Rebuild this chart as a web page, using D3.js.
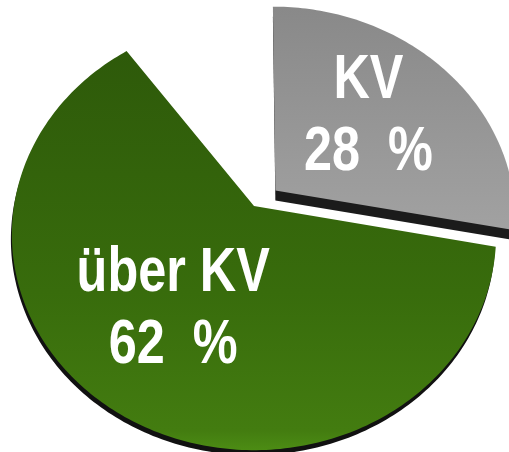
<!DOCTYPE html>
<html>
<head>
<meta charset="utf-8">
<script src="https://cdn.jsdelivr.net/npm/d3@7"></script>
<style>
  html, body { margin: 0; padding: 0; background: #fff; }
  svg { display: block; }
</style>
</head>
<body>
<svg id="canvas"></svg>
<script>
// chart data
const categories = ["KV", "über KV", "Rest"];
const values = [28, 62, 10];
const visible = [true, true, false];

const width = 509,
  height = 452;

// pie seen in perspective
const radius = 240,
  tilt = (28 * Math.PI) / 180,
  dist = 853,
  cx = 254,
  cy = 206;

const explodeIndex = 0,
  explodeDist = 28;

const fills = ["url(#gradKV)", "url(#gradUeber)", "none"];
const sideFill = ["#1b1b1b", "#111", "none"];
const sideShift = [[0, 10], [-1, 5], [0, 0]];

const canvas = d3.select("#canvas").attr("width", width).attr("height", height);

const defs = canvas.append("defs");
const addGradient = (id, y1, y2, stops) => {
  const g = defs
    .append("linearGradient")
    .attr("id", id)
    .attr("gradientUnits", "userSpaceOnUse")
    .attr("x1", 0)
    .attr("x2", 0)
    .attr("y1", y1)
    .attr("y2", y2);
  stops.forEach(([o, c]) => g.append("stop").attr("offset", o).attr("stop-color", c));
};
addGradient("gradKV", 8, 235, [[0, "#898989"], [1, "#a2a2a2"]]);
addGradient("gradUeber", 55, 450, [[0, "#2e5a0a"], [0.6, "#386c0c"], [0.95, "#437c10"], [1, "#4c8c14"]]);

// project a point of the pie plane to the screen
const project = ([x, y]) => {
  const f = dist / (dist - y * Math.sin(tilt));
  return [cx + x * f, cy + y * Math.cos(tilt) * f];
};
const polar = (a, r) => [r * Math.sin(a), -r * Math.cos(a)];

const pie = d3
  .pie()
  .sort(null)
  .value((d) => d);
const arcs = pie(values);

const line = d3.line().curve(d3.curveLinearClosed);

const offsetOf = (i) => {
  if (i !== explodeIndex) return [0, 0];
  const mid = (arcs[i].startAngle + arcs[i].endAngle) / 2;
  return polar(mid, explodeDist);
};

const slicePoints = (i) => {
  const a = arcs[i];
  const [ox, oy] = offsetOf(i);
  const steps = Math.ceil(((a.endAngle - a.startAngle) * 180) / Math.PI);
  const pts = [[ox, oy]];
  d3.range(steps + 1).forEach((k) => {
    const ang = a.startAngle + ((a.endAngle - a.startAngle) * k) / steps;
    const [px, py] = polar(ang, radius);
    pts.push([ox + px, oy + py]);
  });
  return pts.map(project);
};

const g = canvas.append("g");

arcs.forEach((a, i) => {
  if (!visible[i]) return;
  const pts = slicePoints(i);
  g.append("path")
    .attr("d", line(pts))
    .attr("fill", sideFill[i])
    .attr("transform", `translate(${sideShift[i][0]},${sideShift[i][1]})`);
  g.append("path").attr("d", line(pts)).attr("fill", fills[i]);
});

// labels
const labels = canvas.append("g");
arcs.forEach((a, i) => {
  if (!visible[i]) return;
  const mid = (a.startAngle + a.endAngle) / 2;
  const [ox, oy] = offsetOf(i);
  const [px, py] = polar(mid, radius * 0.56);
  const [lx, ly] = project([ox + px, oy + py]);
  const lines = [categories[i], `${values[i]}\u00a0\u00a0%`];
  lines.forEach((txt, k) => {
    labels
      .append("text")
      .attr("transform", `translate(${lx - 4},${ly - 22 + k * 72}) scale(0.8,1)`)
      .attr("text-anchor", "middle")
      .attr("font-family", "'Liberation Sans', Arial, sans-serif")
      .attr("font-weight", "bold")
      .attr("font-size", 63)
      .attr("fill", "#fff")
      .text(txt);
  });
});
</script>
</body>
</html>
